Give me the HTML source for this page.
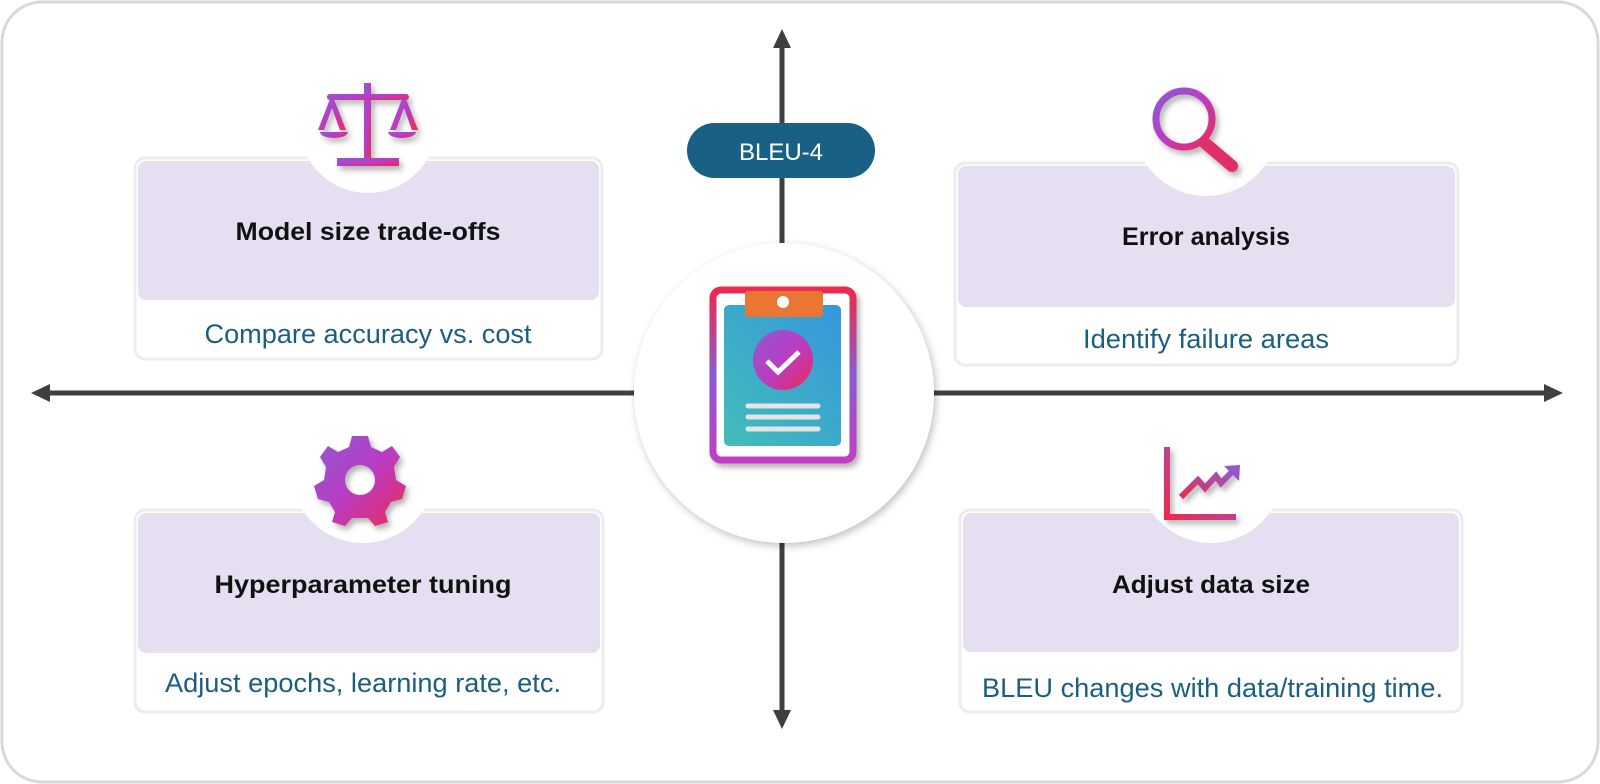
<!DOCTYPE html>
<html><head><meta charset="utf-8"><style>
html,body{margin:0;padding:0;background:#fff;width:1600px;height:784px;overflow:hidden}
svg{display:block}
.t{font-family:"Liberation Sans",sans-serif;font-weight:bold;font-size:25px;fill:#111}
.s{font-family:"Liberation Sans",sans-serif;font-size:27px;fill:#1b5f80}
</style></head><body>
<svg width="1600" height="784" viewBox="0 0 1600 784">
<defs>
<linearGradient id="g1" x1="0" y1="0" x2="1" y2="1"><stop offset="0" stop-color="#8e5bd0"/><stop offset="0.5" stop-color="#b93cc4"/><stop offset="1" stop-color="#ec2a5a"/></linearGradient>
<linearGradient id="g2" x1="0" y1="0" x2="0" y2="1"><stop offset="0" stop-color="#ec2a4e"/><stop offset="0.5" stop-color="#8a5ccc"/><stop offset="1" stop-color="#c23ec4"/></linearGradient>
<linearGradient id="g3" x1="0" y1="1" x2="1" y2="0"><stop offset="0" stop-color="#43bdb8"/><stop offset="1" stop-color="#3596dc"/></linearGradient>
<linearGradient id="g4" x1="0" y1="1" x2="1" y2="0"><stop offset="0" stop-color="#ec2a4e"/><stop offset="1" stop-color="#8e5bd0"/></linearGradient>
<filter id="sh" x="-30%" y="-30%" width="160%" height="160%"><feDropShadow dx="3" dy="4" stdDeviation="3" flood-color="#000" flood-opacity="0.3"/></filter>
<filter id="sh2" x="-20%" y="-20%" width="140%" height="140%"><feDropShadow dx="2" dy="3" stdDeviation="4" flood-color="#000" flood-opacity="0.25"/></filter>
</defs>
<rect x="2" y="2" width="1596" height="780" rx="40" fill="#fff" stroke="#d9d9d9" stroke-width="3"/>

<!-- cards -->
<g>
<rect x="135" y="158" width="467" height="201" rx="10" fill="#fff" stroke="#ececec" stroke-width="3"/>
<rect x="138" y="161" width="461" height="139" rx="8" fill="#e6dff2"/>
<circle cx="368" cy="124" r="69" fill="#fff"/>
<text class="t" x="368" y="240" text-anchor="middle" textLength="265" lengthAdjust="spacingAndGlyphs">Model size trade-offs</text>
<text class="s" x="368" y="343" text-anchor="middle" textLength="327" lengthAdjust="spacingAndGlyphs">Compare accuracy vs. cost</text>
</g>
<g>
<rect x="955" y="163" width="503" height="202" rx="10" fill="#fff" stroke="#ececec" stroke-width="3"/>
<rect x="958" y="166" width="497" height="141" rx="8" fill="#e6dff2"/>
<circle cx="1206" cy="124" r="72" fill="#fff"/>
<text class="t" x="1206" y="245" text-anchor="middle" textLength="168" lengthAdjust="spacingAndGlyphs">Error analysis</text>
<text class="s" x="1206" y="348" text-anchor="middle" textLength="246" lengthAdjust="spacingAndGlyphs">Identify failure areas</text>
</g>
<g>
<rect x="135" y="510" width="468" height="202" rx="10" fill="#fff" stroke="#ececec" stroke-width="3"/>
<rect x="138" y="513" width="462" height="140" rx="8" fill="#e6dff2"/>
<circle cx="363" cy="471" r="72" fill="#fff"/>
<text class="t" x="363" y="593" text-anchor="middle" textLength="297" lengthAdjust="spacingAndGlyphs">Hyperparameter tuning</text>
<text class="s" x="165" y="692" textLength="396" lengthAdjust="spacingAndGlyphs">Adjust epochs, learning rate, etc.</text>
</g>
<g>
<rect x="960" y="510" width="502" height="202" rx="10" fill="#fff" stroke="#ececec" stroke-width="3"/>
<rect x="963" y="513" width="496" height="139" rx="8" fill="#e6dff2"/>
<circle cx="1211" cy="471" r="72" fill="#fff"/>
<text class="t" x="1211" y="593" text-anchor="middle" textLength="198" lengthAdjust="spacingAndGlyphs">Adjust data size</text>
<text class="s" x="982" y="697" textLength="461" lengthAdjust="spacingAndGlyphs">BLEU changes with data/training time.</text>
</g>

<!-- axes -->
<line x1="45" y1="393" x2="1550" y2="393" stroke="#3f3f3f" stroke-width="5"/>
<polygon points="31,393 50,384 50,402" fill="#3f3f3f"/>
<polygon points="1563,393 1544,384 1544,402" fill="#3f3f3f"/>
<line x1="782" y1="45" x2="782" y2="715" stroke="#3f3f3f" stroke-width="5"/>
<polygon points="782,29 773,48 791,48" fill="#3f3f3f"/>
<polygon points="782,729 773,710 791,710" fill="#3f3f3f"/>

<!-- pill -->
<rect x="687" y="123" width="188" height="55" rx="27.5" fill="#186184"/>
<text x="781" y="160" text-anchor="middle" font-family="Liberation Sans,sans-serif" font-size="24" fill="#fff">BLEU-4</text>

<!-- center circle -->
<circle cx="784" cy="393" r="150" fill="#fff" filter="url(#sh2)"/>
<g filter="url(#sh)">
<rect x="713" y="290" width="140" height="170" rx="8" fill="#fff" stroke="url(#g2)" stroke-width="7"/>
<rect x="724" y="305" width="117" height="141" rx="5" fill="url(#g3)"/>
<rect x="745" y="291" width="78" height="26" rx="3" fill="#eb7433"/>
<circle cx="783" cy="302" r="6" fill="#fff"/>
<circle cx="783" cy="360" r="30" fill="url(#g1)"/>
<polyline points="767,361 778,372 799,352" fill="none" stroke="#fff" stroke-width="5"/>
<line x1="748" y1="406" x2="818" y2="406" stroke="#e4e4e4" stroke-width="5" stroke-linecap="round"/>
<line x1="748" y1="417" x2="818" y2="417" stroke="#e4e4e4" stroke-width="5" stroke-linecap="round"/>
<line x1="748" y1="429" x2="818" y2="429" stroke="#e4e4e4" stroke-width="5" stroke-linecap="round"/>
</g>

<!-- scale icon -->
<g filter="url(#sh)" fill="url(#g1)">
<rect x="364" y="83" width="7" height="76"/>
<rect x="327" y="94" width="82" height="6" rx="3"/>
<rect x="337" y="158" width="62" height="8"/>
<polygon points="330,99 334,99 346,130 340,130 332,108 324,130 318,130"/>
<polygon points="402,99 406,99 418,130 412,130 404,108 396,130 390,130"/>
<path d="M320,132 h28 a14,6 0 0 1 -28,0z"/>
<path d="M388,132 h28 a14,6 0 0 1 -28,0z"/>
</g>
<!-- magnifier -->
<g filter="url(#sh)">
<circle cx="1184" cy="119" r="28" fill="none" stroke="url(#g1)" stroke-width="7"/>
<line x1="1205" y1="143" x2="1232" y2="166" stroke="#e02f6a" stroke-width="12" stroke-linecap="round"/>
</g>
<!-- gear -->
<g filter="url(#sh)" transform="translate(360,480)">
<path fill="url(#g1)" fill-rule="evenodd" d="M-8,-44 L8,-44 L11,-33 L22,-28 L32,-34 L40,-23 L34,-13 L36,0 L46,6 L42,19 L31,22 L25,32 L28,42 L15,46 L8,38 L-8,38 L-15,46 L-28,42 L-25,32 L-31,22 L-42,19 L-46,6 L-36,0 L-34,-13 L-40,-23 L-32,-34 L-22,-28 L-11,-33 Z M15,0 A15,15 0 1 0 -15,0 A15,15 0 1 0 15,0 Z"/>
</g>
<!-- chart -->
<g filter="url(#sh)" fill="none" stroke="url(#g4)" stroke-width="6">
<polyline points="1167,447 1167,517 1236,517"/>
<polyline points="1181,497 1198,480 1205,488 1216,476 1221,483 1234,470"/>
</g>
<polygon points="1240,465 1239,481 1224,466" fill="#9a55cc"/>
</svg>
</body></html>
